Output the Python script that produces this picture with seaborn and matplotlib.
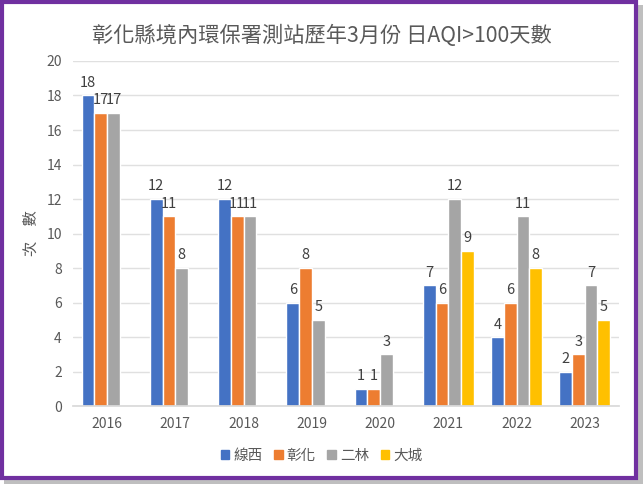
import numpy as np
import pandas as pd
import matplotlib.pyplot as plt
import matplotlib.patches as mpatches
import seaborn as sns

# data
years = ["2016", "2017", "2018", "2019", "2020", "2021", "2022", "2023"]
stations = ["線西", "彰化", "二林", "大城"]
xianxi = [18, 12, 12, 6, 1, 7, 4, 2]
changhua = [17, 11, 11, 8, 1, 6, 6, 3]
erlin = [17, 8, 11, 5, 3, 12, 11, 7]
dacheng = [None, None, None, None, None, 9, 8, 5]
colors = ["#4472C4", "#ED7D31", "#A5A5A5", "#FFC000"]

rows = []
for name, vals in zip(stations, [xianxi, changhua, erlin, dacheng]):
    for y, v in zip(years, vals):
        if v is not None:
            rows.append({"year": y, "station": name, "days": v})
df = pd.DataFrame(rows)

sns.set_theme(style="white")
plt.rcParams["font.family"] = ["Noto Sans CJK TC", "DejaVu Sans"]

fig = plt.figure(figsize=(6.43, 4.84), dpi=100)
ax = fig.add_axes([0.1135, 0.161, 0.849, 0.713])

sns.barplot(data=df, x="year", y="days", hue="station", order=years,
            hue_order=stations, palette=colors, saturation=1, width=0.745,
            edgecolor="white", linewidth=1.0, ax=ax, legend=False)

for c in ax.containers:
    ax.bar_label(c, fmt="%.0f", padding=4, fontsize=10.5, color="#404040")

ax.set_ylim(0, 20)
ax.set_yticks(range(0, 21, 2))
ax.yaxis.grid(True, color="#E0E0E0", linewidth=1)
ax.set_axisbelow(True)
for s in ["top", "right", "left"]:
    ax.spines[s].set_visible(False)
ax.spines["bottom"].set_color("#D9D9D9")
ax.tick_params(axis="both", length=0, labelsize=10, colors="#595959", pad=8)
ax.set_xlabel("")
ax.set_ylabel("次\u3000數", fontsize=11, color="#595959")
ax.yaxis.set_label_coords(-0.06, 0.5)

fig.suptitle("彰化縣境內環保署測站歷年3月份 日AQI>100天數", y=0.948,
             fontsize=15.3, color="#595959")

handles = [mpatches.Patch(color=c, label=s) for c, s in zip(colors, stations)]
fig.legend(handles=handles, loc="center", bbox_to_anchor=(0.5, 0.058), ncol=4,
           frameon=False, fontsize=10.5, handlelength=0.6, handleheight=0.6,
           handletextpad=0.25, columnspacing=0.8, labelcolor="#595959")

# shadow and purple frame
fig.patches.append(mpatches.Rectangle((0.006, 0.0), 0.994, 0.99, transform=fig.transFigure,
                                      facecolor="#BFBFBF", edgecolor="none", zorder=-2))
fig.patches.append(mpatches.Rectangle((0.003, 0.012), 0.986, 0.984, transform=fig.transFigure,
                                      facecolor="white", edgecolor="#7030A0", linewidth=3,
                                      zorder=-1))

fig.savefig("out.png", dpi=100)
